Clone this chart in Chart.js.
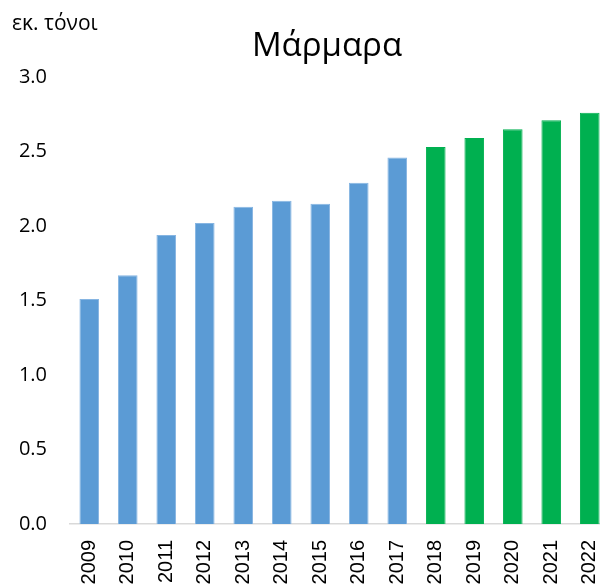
<!DOCTYPE html>
<html>
<head>
<meta charset="utf-8">
<script src="https://cdn.jsdelivr.net/npm/chart.js@4"></script>
<style>
  html, body { margin: 0; padding: 0; background: #fff; overflow: hidden; }
  #wrap { width: 612px; height: 588px; }
</style>
</head>
<body>
<div id="wrap"><canvas id="marbleChart" width="612" height="588"></canvas></div>
<script>
const years = ['2009', '2010', '2011', '2012', '2013', '2014', '2015',
    '2016', '2017', '2018', '2019', '2020', '2021', '2022'];
// production, million tonnes
const volumes = [1.51, 1.67, 1.94, 2.02, 2.13, 2.17, 2.15, 2.29, 2.46,
    2.53, 2.59, 2.65, 2.71, 2.76];
const firstForecastYear = '2018';
const yTicks = [0, 0.5, 1.0, 1.5, 2.0, 2.5, 3.0];

const chartTitle = 'Μάρμαρα';
const unitLabel = 'εκ. τόνοι';

const ACTUAL = '#5b9bd5';
const FORECAST = '#00b050';

const headerText = {
    id: 'headerText',
    afterDraw(chart) {
        const { ctx, chartArea } = chart;
        ctx.save();
        ctx.fillStyle = '#000';
        ctx.textBaseline = 'alphabetic';
        ctx.textAlign = 'left';
        ctx.font = '21px "Open Sans"';
        ctx.fillText(unitLabel, 12, 30);
        ctx.textAlign = 'center';
        ctx.font = '33px "Open Sans"';
        ctx.fillText(chartTitle, chartArea.left + 257, 56);
        ctx.restore();
    },
};

new Chart(document.getElementById('marbleChart'), {
    type: 'bar',
    data: {
        labels: years,
        datasets: [
            {
                label: chartTitle,
                data: volumes,
                backgroundColor: years.map((y) => (y >= firstForecastYear ? FORECAST : ACTUAL)),
                borderColor: years.map((y) => (y >= firstForecastYear ? FORECAST : '#86b5e2')),
                borderWidth: { top: 1, left: 1, right: 1, bottom: 0 },
                categoryPercentage: 1,
                barPercentage: 0.51,
            },
        ],
    },
    options: {
        responsive: false,
        animation: false,
        layout: { padding: { top: 77, right: 3, left: 0, bottom: 0 } },
        plugins: {
            legend: { display: false },
            tooltip: { enabled: false },
            title: { display: false },
        },
        scales: {
            y: {
                min: 0,
                max: 3,
                afterBuildTicks(scale) {
                    scale.ticks = yTicks.map((v) => ({ value: v }));
                },
                afterFit(scale) {
                    scale.width = 70;
                    scale.paddingTop = 0;
                    scale.paddingBottom = 0;
                },
                grid: { display: false, drawTicks: false },
                border: { display: false },
                ticks: {
                    padding: 23,
                    color: '#000',
                    font: { family: '"Open Sans"', size: 20 },
                    callback(v) {
                        return Number(v).toFixed(1);
                    },
                },
            },
            x: {
                afterFit(scale) {
                    scale.height = 64;
                    // rotated labels fit inside their columns, no side gutters needed
                    scale.paddingLeft = 0;
                    scale.paddingRight = 0;
                },
                grid: { display: false, drawTicks: false },
                border: { display: true, color: '#d9d9d9', width: 1.5 },
                ticks: {
                    padding: 16,
                    minRotation: 90,
                    maxRotation: 90,
                    autoSkip: false,
                    color: '#000',
                    font: { family: '"Liberation Sans"', size: 20 },
                },
            },
        },
    },
    plugins: [headerText],
});
</script>
</body>
</html>
